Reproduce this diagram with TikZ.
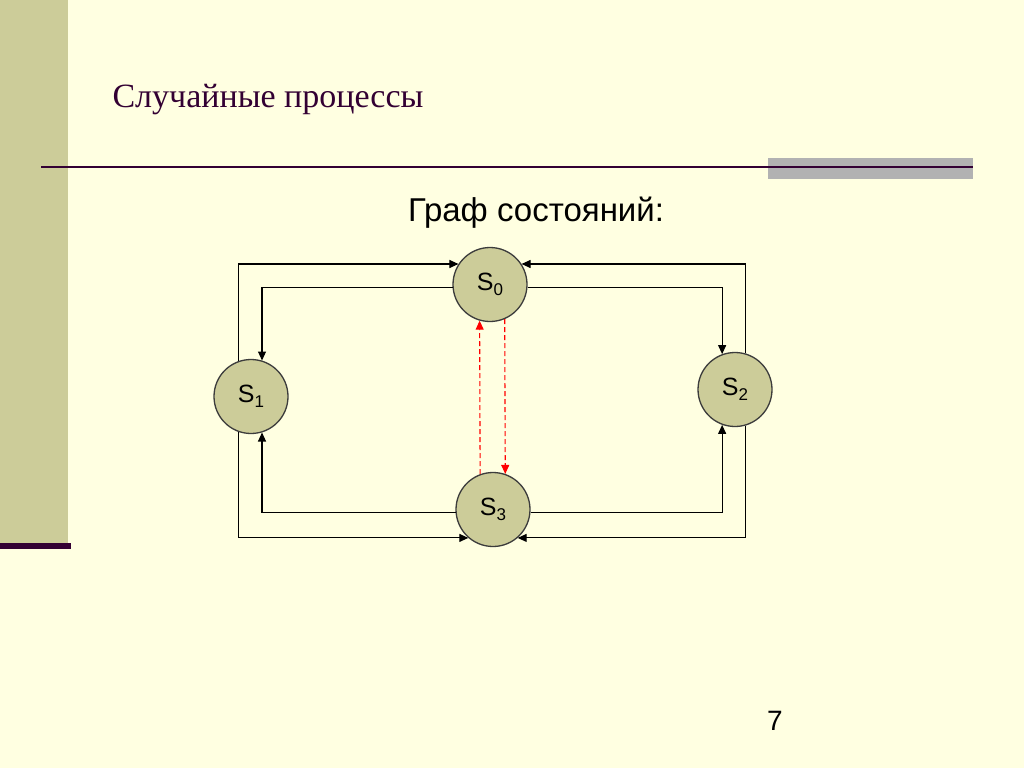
\documentclass[tikz,border=0pt]{standalone}
\usepackage{fontspec}
\setmainfont{Liberation Serif}
\setsansfont{Liberation Sans}
\usetikzlibrary{arrows.meta}
\definecolor{slidebg}{HTML}{FFFFE1}
\definecolor{barcol}{HTML}{CCCC99}
\definecolor{rulecol}{HTML}{330033}
\definecolor{greycol}{HTML}{B2B2B2}
\definecolor{statecol}{HTML}{CCCC99}
\definecolor{edgecol}{HTML}{3C3C3C}
\newcommand{\idx}[1]{\raisebox{-5pt}{\fontsize{17}{17}\selectfont #1}}

\begin{document}
\begin{tikzpicture}[x=1pt, y=-1pt, font=\sffamily,
  state/.style={circle, draw=edgecol, line width=1.3pt, fill=statecol, minimum size=74pt, inner sep=0pt, font=\sffamily\fontsize{25}{25}\selectfont},
  link/.style={-{Triangle[length=9pt,width=8pt]}, line width=1.1pt},
  back/.style={link, red, dash pattern=on 5pt off 3pt}]
\fill[slidebg] (0,0) rectangle (1024,768);
\useasboundingbox (0,0) rectangle (1024,768);

% slide frame
\fill[barcol] (0,0) rectangle (68,544);
\fill[rulecol] (0,543) rectangle (71,549);
\fill[greycol] (768,158) rectangle (973,179);
\draw[rulecol, line width=2.5pt] (41,167) -- (973,167);

\node[anchor=base west, rulecol, font=\rmfamily\fontsize{34}{34}\selectfont] (title) at (109,107) {Случайные процессы};
\node[anchor=base, font=\sffamily\fontsize{33}{33}\selectfont] (head) at (536,221) {Граф состояний:};

% states
\foreach \n/\x/\y in {0/490/284.5,1/251/396.5,2/735/389.5,3/493/509.5}{
  \node[state] (s\n) at (\x,\y) {S\idx{\n}};
}

% outer loops
\draw[link] (s1.110) |- (s0.147);
\draw[link] (s2.74) |- (s0.33);
\draw[link] (s1.250) |- (s3.229);
\draw[link] (s2.286) |- (s3.311);

% inner loops
\draw[link] (s0.185) -| (s1.73);
\draw[link] (s0.355) -| (s2.110);
\draw[link] (s3.185) -| (s1.287);
\draw[link] (s3.355) -| (s2.250);

% between s0 and s3
\draw[back] (s3.110) -- (s0.254.5);
\draw[back] (s0.293.6) -- (s3.71.6);

\node[anchor=base, font=\sffamily\fontsize{28}{28}\selectfont] (page) at (775,730) {7};
\end{tikzpicture}
\end{document}
